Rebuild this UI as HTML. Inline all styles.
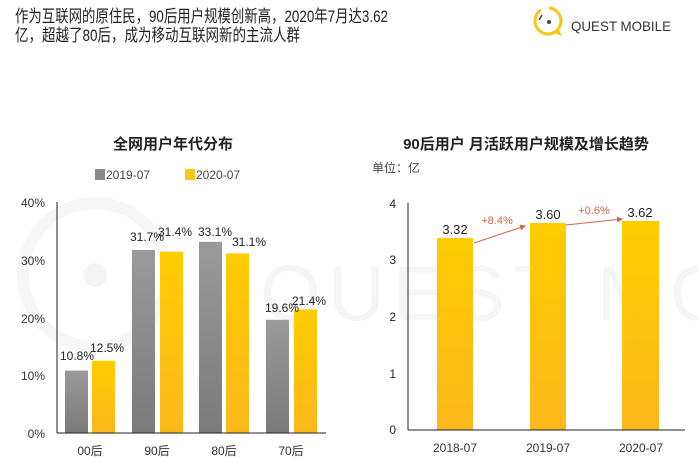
<!DOCTYPE html>
<html><head><meta charset="utf-8"><style>
body{margin:0;background:#fff;}
svg{display:block;font-family:"Liberation Sans","Noto Sans CJK SC",sans-serif;}
</style></head><body>
<svg width="698" height="462" viewBox="0 0 698 462" xmlns="http://www.w3.org/2000/svg">
<defs>
<linearGradient id="g" x1="0" y1="0" x2="0" y2="1"><stop offset="0" stop-color="#9a9a9a"/><stop offset="1" stop-color="#7a7a7a"/></linearGradient>
<linearGradient id="y" x1="0" y1="0" x2="0" y2="1"><stop offset="0" stop-color="#ffcc00"/><stop offset="1" stop-color="#fbb81c"/></linearGradient>
<marker id="ar" markerWidth="6" markerHeight="6" refX="5" refY="3" orient="auto"><path d="M0,0 L6,3 L0,6 z" fill="#d9624a"/></marker>
</defs>
<!-- watermark -->
<circle cx="95" cy="275" r="72" fill="none" stroke="#f6f6f6" stroke-width="12"/>
<circle cx="95" cy="275" r="12" fill="#f4f4f4"/>
<text x="260" y="320" font-size="78" fill="#f5f5f5" letter-spacing="8">QUEST MOBILE</text>
<!-- title -->
<text x="15" y="22" font-size="17" fill="#222" textLength="373" lengthAdjust="spacingAndGlyphs">作为互联网的原住民，90后用户规模创新高，2020年7月达3.62</text>
<text x="15" y="41" font-size="17" fill="#222" textLength="285" lengthAdjust="spacingAndGlyphs">亿，超越了80后，成为移动互联网新的主流人群</text>
<!-- logo -->
<path d="M541,10 a13,13 0 1 0 8,-2" fill="none" stroke="#f5c518" stroke-width="3"/>
<path d="M552,32 l10,4 l-4,-8z" fill="#f5c518"/>
<circle cx="549" cy="22" r="2" fill="#444"/>
<path d="M542,15 l-3,5" stroke="#444" stroke-width="1.5"/>
<text x="571" y="31" font-size="14" fill="#333" textLength="100" lengthAdjust="spacingAndGlyphs">QUEST MOBILE</text>
<!-- left chart -->
<text x="173" y="149" font-size="15" fill="#222" text-anchor="middle" font-weight="bold">全网用户年代分布</text>
<rect x="95" y="169" width="10" height="11" fill="#888"/><text x="106" y="179" font-size="12" fill="#444">2019-07</text>
<rect x="185" y="169" width="10" height="11" fill="#fdc513"/><text x="196" y="179" font-size="12" fill="#444">2020-07</text>
<g font-size="12" fill="#333" text-anchor="end">
<text x="45" y="207">40%</text><text x="45" y="265">30%</text><text x="45" y="323">20%</text><text x="45" y="380">10%</text><text x="45" y="438">0%</text>
</g>
<g>
<rect x="65" y="370.6" width="23" height="62.4" fill="url(#g)"/><rect x="92" y="360.8" width="23" height="72.2" fill="url(#y)"/>
<rect x="132" y="249.9" width="23" height="183.1" fill="url(#g)"/><rect x="160" y="251.7" width="23" height="181.3" fill="url(#y)"/>
<rect x="199" y="241.8" width="23" height="191.2" fill="url(#g)"/><rect x="226" y="253.4" width="23" height="179.6" fill="url(#y)"/>
<rect x="266" y="319.8" width="23" height="113.2" fill="url(#g)"/><rect x="294" y="309.4" width="23" height="123.6" fill="url(#y)"/>
</g>
<line x1="57" y1="202" x2="57" y2="433" stroke="#222"/>
<line x1="57" y1="433" x2="326" y2="433" stroke="#222"/>
<g font-size="12" fill="#222" text-anchor="middle">
<text x="77" y="360">10.8%</text><text x="107" y="352">12.5%</text>
<text x="147" y="241">31.7%</text><text x="175" y="236">31.4%</text>
<text x="215" y="236">33.1%</text><text x="249" y="246">31.1%</text>
<text x="282" y="312">19.6%</text><text x="309" y="305">21.4%</text>
</g>
<g font-size="12" fill="#333" text-anchor="middle">
<text x="90" y="455">00后</text><text x="157" y="455">90后</text><text x="224" y="455">80后</text><text x="291" y="455">70后</text>
</g>
<!-- right chart -->
<text x="526" y="149" font-size="15" fill="#222" text-anchor="middle" font-weight="bold">90后用户 月活跃用户规模及增长趋势</text>
<text x="372" y="172" font-size="12" fill="#444">单位：亿</text>
<g font-size="12" fill="#222" text-anchor="end">
<text x="396" y="208">4</text><text x="396" y="264">3</text><text x="396" y="321">2</text><text x="396" y="378">1</text><text x="396" y="434">0</text>
</g>
<rect x="437" y="238" width="36" height="192" fill="url(#y)"/>
<rect x="530" y="223" width="36" height="207" fill="url(#y)"/>
<rect x="622" y="221" width="37" height="209" fill="url(#y)"/>
<line x1="408" y1="203" x2="408" y2="430" stroke="#222"/>
<line x1="408" y1="430" x2="685" y2="430" stroke="#222"/>
<g font-size="13" fill="#222" text-anchor="middle">
<text x="455" y="234">3.32</text><text x="548" y="219">3.60</text><text x="640" y="217">3.62</text>
</g>
<line x1="474" y1="243" x2="525" y2="226" stroke="#d9624a" marker-end="url(#ar)"/>
<line x1="566" y1="225" x2="622" y2="219" stroke="#d9624a" marker-end="url(#ar)"/>
<text x="497" y="224" font-size="11" fill="#d9624a" text-anchor="middle">+8.4%</text>
<text x="594" y="214" font-size="11" fill="#d9624a" text-anchor="middle">+0.6%</text>
<g font-size="12" fill="#333" text-anchor="middle">
<text x="455" y="452">2018-07</text><text x="548" y="452">2019-07</text><text x="641" y="452">2020-07</text>
</g>
</svg>
</body></html>
